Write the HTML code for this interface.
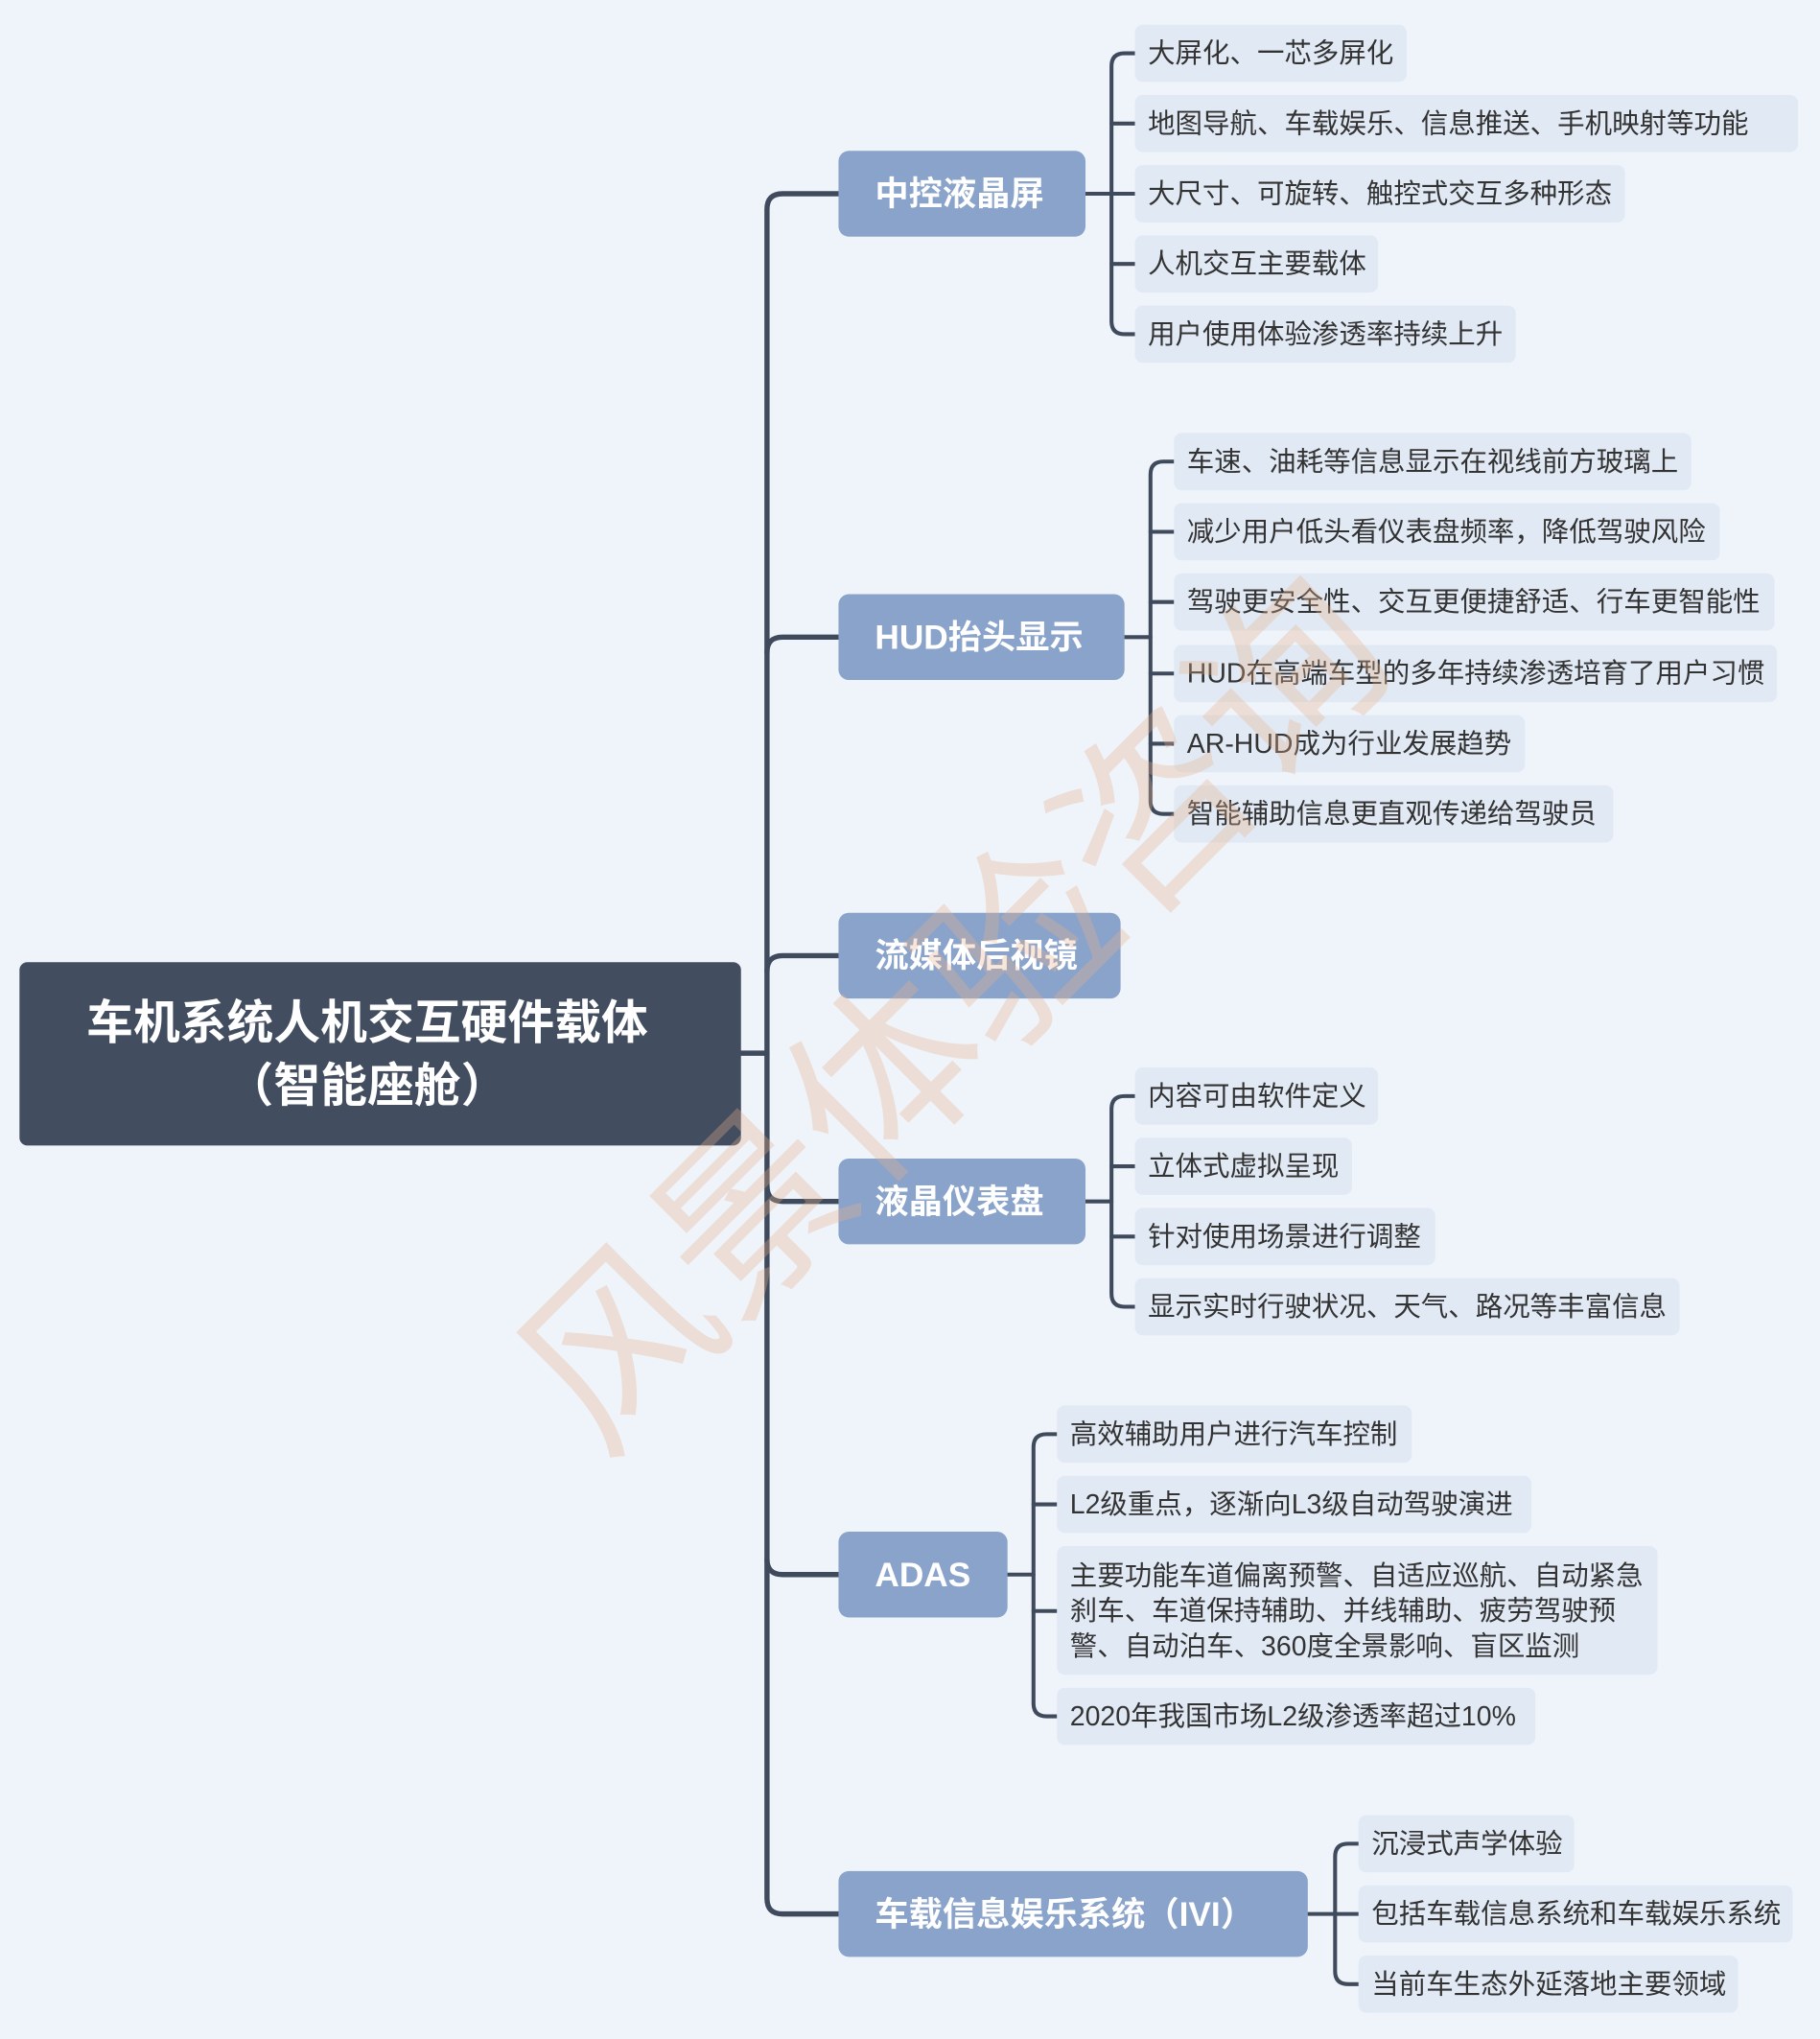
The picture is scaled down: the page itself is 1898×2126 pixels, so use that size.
<!DOCTYPE html>
<html><head><meta charset="utf-8">
<style>
html,body{margin:0;padding:0;background:#eef4f9;}
#wrap{position:relative;width:1400px;height:1568px;transform:scale(1.35571);transform-origin:0 0;overflow:hidden;font-family:"Liberation Sans","Noto Sans CJK SC",sans-serif;}
.b{position:absolute;box-sizing:border-box;}
.root{background:#424d60;color:#fff;font-weight:bold;font-size:36px;line-height:48px;text-align:center;border-radius:6px;padding-top:23px;padding-right:20px;}
.l1{background:#8aa3cb;color:#fff;font-weight:bold;font-size:26px;border-radius:8px;height:66px;line-height:66px;padding-left:28px;}
.lf{background:#e1e9f4;color:#333;font-size:21px;border-radius:6px;height:44px;line-height:46px;padding-left:10px;white-space:nowrap;}
.wm{position:absolute;left:290px;top:665px;font-size:145px;color:rgba(232,178,140,0.32);transform:rotate(-45deg);transform-origin:center;white-space:nowrap;font-family:"Noto Sans CJK SC",sans-serif;}
svg{position:absolute;left:0;top:0;}
</style></head><body><div id="wrap">
<svg width="1400" height="1568" fill="none" stroke="#3f4a5c" stroke-width="4" stroke-linecap="round">
<path d="M570 810 H590"/>
<path d="M645 149 H602 Q590 149 590 161 V810"/>
<path d="M645 1472 H602 Q590 1472 590 1460 V810"/>
<path d="M590 502 Q590 490 602 490 H645"/>
<path d="M590 747 Q590 735 602 735 H645"/>
<path d="M590 912 Q590 924 602 924 H645"/>
<path d="M590 1199 Q590 1211 602 1211 H645"/>
<g stroke-width="3">
<path d="M835 149 H855"/>
<path d="M873 41 H865 Q855 41 855 51 V247 Q855 257 865 257 H873"/>
<path d="M855 95 H873 M855 149 H873 M855 203 H873"/>
<path d="M865 490 H885"/>
<path d="M903 355 H895 Q885 355 885 365 V616 Q885 626 895 626 H903"/>
<path d="M885 409 H903 M885 463 H903 M885 518 H903 M885 572 H903"/>
<path d="M835 924 H855"/>
<path d="M873 843 H865 Q855 843 855 853 V995 Q855 1005 865 1005 H873"/>
<path d="M855 897 H873 M855 951 H873"/>
<path d="M775 1211 H795"/>
<path d="M813 1103 H805 Q795 1103 795 1113 V1310 Q795 1320 805 1320 H813"/>
<path d="M795 1157 H813 M795 1239 H813"/>
<path d="M1006 1472 H1027"/>
<path d="M1045 1418 H1037 Q1027 1418 1027 1428 V1516 Q1027 1526 1037 1526 H1045"/>
<path d="M1027 1472 H1045"/>
</g>
</svg>
<div class="b root" style="left:15px;top:740px;width:555px;height:141px;">车机系统人机交互硬件载体<br>（智能座舱）</div>
<div class="b l1" style="left:645px;top:116px;width:190px;">中控液晶屏</div>
<div class="b l1" style="left:645px;top:457px;width:220px;">HUD抬头显示</div>
<div class="b l1" style="left:645px;top:702px;width:217px;">流媒体后视镜</div>
<div class="b l1" style="left:645px;top:891px;width:190px;">液晶仪表盘</div>
<div class="b l1" style="left:645px;top:1178px;width:130px;">ADAS</div>
<div class="b l1" style="left:645px;top:1439px;width:361px;">车载信息娱乐系统（IVI）</div>

<div class="b lf" style="left:873px;top:19px;width:209px;">大屏化、一芯多屏化</div>
<div class="b lf" style="left:873px;top:73px;width:510px;">地图导航、车载娱乐、信息推送、手机映射等功能</div>
<div class="b lf" style="left:873px;top:127px;width:377px;">大尺寸、可旋转、触控式交互多种形态</div>
<div class="b lf" style="left:873px;top:181px;width:187px;">人机交互主要载体</div>
<div class="b lf" style="left:873px;top:235px;width:293px;">用户使用体验渗透率持续上升</div>

<div class="b lf" style="left:903px;top:333px;width:398px;">车速、油耗等信息显示在视线前方玻璃上</div>
<div class="b lf" style="left:903px;top:387px;width:420px;">减少用户低头看仪表盘频率，降低驾驶风险</div>
<div class="b lf" style="left:903px;top:441px;width:462px;">驾驶更安全性、交互更便捷舒适、行车更智能性</div>
<div class="b lf" style="left:903px;top:496px;width:464px;">HUD在高端车型的多年持续渗透培育了用户习惯</div>
<div class="b lf" style="left:903px;top:550px;width:270px;">AR-HUD成为行业发展趋势</div>
<div class="b lf" style="left:903px;top:604px;width:338px;">智能辅助信息更直观传递给驾驶员</div>

<div class="b lf" style="left:873px;top:821px;width:187px;">内容可由软件定义</div>
<div class="b lf" style="left:873px;top:875px;width:167px;">立体式虚拟呈现</div>
<div class="b lf" style="left:873px;top:929px;width:231px;">针对使用场景进行调整</div>
<div class="b lf" style="left:873px;top:983px;width:419px;">显示实时行驶状况、天气、路况等丰富信息</div>

<div class="b lf" style="left:813px;top:1081px;width:273px;">高效辅助用户进行汽车控制</div>
<div class="b lf" style="left:813px;top:1135px;width:365px;">L2级重点，逐渐向L3级自动驾驶演进</div>
<div class="b lf" style="left:813px;top:1189px;width:462px;height:99px;line-height:27px;padding-top:10px;white-space:normal;">主要功能车道偏离预警、自适应巡航、自动紧急<br>刹车、车道保持辅助、并线辅助、疲劳驾驶预<br>警、自动泊车、360度全景影响、盲区监测</div>
<div class="b lf" style="left:813px;top:1298px;width:368px;">2020年我国市场L2级渗透率超过10%</div>

<div class="b lf" style="left:1045px;top:1396px;width:166px;">沉浸式声学体验</div>
<div class="b lf" style="left:1045px;top:1450px;width:334px;">包括车载信息系统和车载娱乐系统</div>
<div class="b lf" style="left:1045px;top:1504px;width:292px;">当前车生态外延落地主要领域</div>

<div class="wm">风景体验咨询</div>
</div></body></html>
